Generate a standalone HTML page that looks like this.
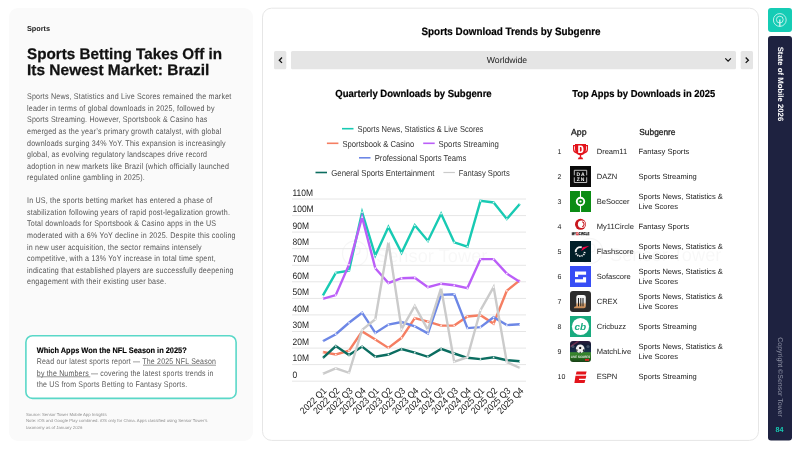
<!DOCTYPE html>
<html><head><meta charset="utf-8"><style>
html,body{margin:0;padding:0;width:800px;height:450px;overflow:hidden;background:#fff;}
svg{position:absolute;left:0;top:0;display:block;will-change:transform;}
svg text{font-family:"Liberation Sans",sans-serif;text-rendering:geometricPrecision;}
</style></head><body>
<svg width="800" height="450" viewBox="0 0 800 450">
<rect x="9" y="8" width="244" height="433" rx="9" fill="#fafafa"/>
<text x="27.00" y="31.00" font-size="7.3" font-weight="bold" fill="#1a1a1a">Sports</text>
<text transform="translate(27.00,58.60) scale(0.995,1)" font-size="15.3" font-weight="bold" fill="#111" stroke="#111" stroke-width="0.25">Sports Betting Takes Off in</text>
<text transform="translate(27.00,75.10) scale(1.012,1)" font-size="15.3" font-weight="bold" fill="#111" stroke="#111" stroke-width="0.25">Its Newest Market: Brazil</text>
<text transform="translate(27.00,99.40) scale(0.87,1)" font-size="8.2" fill="#555555" letter-spacing="0.22">Sports News, Statistics and Live Scores remained the market</text>
<text transform="translate(27.00,110.94) scale(0.87,1)" font-size="8.2" fill="#555555" letter-spacing="0.22">leader in terms of global downloads in 2025, followed by</text>
<text transform="translate(27.00,122.48) scale(0.87,1)" font-size="8.2" fill="#555555" letter-spacing="0.22">Sports Streaming. However, Sportsbook &amp; Casino has</text>
<text transform="translate(27.00,134.02) scale(0.87,1)" font-size="8.2" fill="#555555" letter-spacing="0.22">emerged as the year&#8217;s primary growth catalyst, with global</text>
<text transform="translate(27.00,145.56) scale(0.87,1)" font-size="8.2" fill="#555555" letter-spacing="0.22">downloads surging 34% YoY. This expansion is increasingly</text>
<text transform="translate(27.00,157.10) scale(0.87,1)" font-size="8.2" fill="#555555" letter-spacing="0.22">global, as evolving regulatory landscapes drive record</text>
<text transform="translate(27.00,168.64) scale(0.87,1)" font-size="8.2" fill="#555555" letter-spacing="0.22">adoption in new markets like Brazil (which officially launched</text>
<text transform="translate(27.00,180.18) scale(0.87,1)" font-size="8.2" fill="#555555" letter-spacing="0.22">regulated online gambling in 2025).</text>
<text transform="translate(27.00,203.40) scale(0.87,1)" font-size="8.2" fill="#555555" letter-spacing="0.22">In US, the sports betting market has entered a phase of</text>
<text transform="translate(27.00,214.94) scale(0.87,1)" font-size="8.2" fill="#555555" letter-spacing="0.22">stabilization following years of rapid post-legalization growth.</text>
<text transform="translate(27.00,226.48) scale(0.87,1)" font-size="8.2" fill="#555555" letter-spacing="0.22">Total downloads for Sportsbook &amp; Casino apps in the US</text>
<text transform="translate(27.00,238.02) scale(0.87,1)" font-size="8.2" fill="#555555" letter-spacing="0.22">moderated with a 6% YoY decline in 2025. Despite this cooling</text>
<text transform="translate(27.00,249.56) scale(0.87,1)" font-size="8.2" fill="#555555" letter-spacing="0.22">in new user acquisition, the sector remains intensely</text>
<text transform="translate(27.00,261.10) scale(0.87,1)" font-size="8.2" fill="#555555" letter-spacing="0.22">competitive, with a 13% YoY increase in total time spent,</text>
<text transform="translate(27.00,272.64) scale(0.87,1)" font-size="8.2" fill="#555555" letter-spacing="0.22">indicating that established players are successfully deepening</text>
<text transform="translate(27.00,284.18) scale(0.87,1)" font-size="8.2" fill="#555555" letter-spacing="0.22">engagement with their existing user base.</text>
<rect x="25.9" y="335.7" width="210.2" height="62.7" rx="6.5" fill="#fff" stroke="#5ad8c8" stroke-width="1.6"/>
<text transform="translate(36.80,352.80) scale(0.925,1)" font-size="8.0" font-weight="bold" fill="#000" stroke="#000" stroke-width="0.15">Which Apps Won the NFL Season in 2025?</text>
<text transform="translate(36.80,364.30) scale(0.855,1)" font-size="8.2" fill="#5a5a5a" letter-spacing="0.22">Read our latest sports report &#8212; The 2025 NFL Season</text>
<text transform="translate(36.80,375.80) scale(0.855,1)" font-size="8.2" fill="#5a5a5a" letter-spacing="0.22">by the Numbers &#8212; covering the latest sports trends in</text>
<line x1="143" y1="365.2" x2="216" y2="365.2" stroke="#7a7a7a" stroke-width="0.8"/><line x1="36.8" y1="376.8" x2="90.3" y2="376.8" stroke="#7a7a7a" stroke-width="0.8"/>
<text transform="translate(36.80,387.30) scale(0.855,1)" font-size="8.2" fill="#5a5a5a" letter-spacing="0.22">the US from Sports Betting to Fantasy Sports.</text>
<g transform="translate(26,416.1) scale(0.5)" fill="#8f8f8f" font-size="8.6"><text x="0" y="0">Source: Sensor Tower Mobile App Insights</text><text x="0" y="12.6">Note: iOS and Google Play combined. iOS only for China. Apps classified using Sensor Tower&#8217;s</text><text x="0" y="25">taxonomy as of January 2026</text></g>
<rect x="262.5" y="8.2" width="496" height="432.2" rx="9" fill="#fff" stroke="#e6e6e6" stroke-width="1"/>
<text transform="translate(511.00,34.90) scale(0.925,1)" font-size="10.7" font-weight="bold" text-anchor="middle" fill="#000" stroke="#000" stroke-width="0.2">Sports Download Trends by Subgenre</text>
<rect x="274" y="51" width="12.3" height="18.3" rx="1.5" fill="#e5e5e5"/>
<path d="M282 57.5 L279.3 60.2 L282 62.9" fill="none" stroke="#111" stroke-width="1.3"/>
<rect x="291" y="51" width="445" height="18.3" rx="1.5" fill="#e5e5e5"/>
<text x="507.00" y="63.10" font-size="8.7" text-anchor="middle" fill="#222">Worldwide</text>
<path d="M725.3 58.3 L728.1 61.1 L730.9 58.3" fill="none" stroke="#111" stroke-width="1.2"/>
<rect x="740.7" y="51" width="12.3" height="18.3" rx="1.5" fill="#e5e5e5"/>
<path d="M745.7 57.5 L748.4 60.2 L745.7 62.9" fill="none" stroke="#111" stroke-width="1.3"/>
<text transform="translate(335.30,97.00) scale(0.918,1)" font-size="10.4" font-weight="bold" fill="#000" stroke="#000" stroke-width="0.2">Quarterly Downloads by Subgenre</text>
<text transform="translate(572.30,97.00) scale(0.921,1)" font-size="10.2" font-weight="bold" fill="#000" stroke="#000" stroke-width="0.2">Top Apps by Downloads in 2025</text>
<g opacity="0.03"><circle cx="355" cy="253.5" r="12.5" fill="none" stroke="#000" stroke-width="1.3"/><path d="M352 261.5 V249.5 Q352 246.5 356 246.5 Q360 246.5 360 250.5 Q360 254.5 356 254.5" fill="none" stroke="#000" stroke-width="1.3"/></g>
<text x="376.00" y="262.00" font-size="18.3" fill="#000" opacity="0.028">Sensor Tower</text>
<g opacity="0.03"><circle cx="590" cy="251" r="12.5" fill="none" stroke="#000" stroke-width="1.3"/><path d="M587 259 V247 Q587 244 591 244 Q595 244 595 248 Q595 252 591 252" fill="none" stroke="#000" stroke-width="1.3"/></g>
<text x="610.00" y="261.00" font-size="18.3" fill="#000" opacity="0.028">Sensor Tower</text>
<line x1="342.0" y1="128.7" x2="353.5" y2="128.7" stroke="#18cab3" stroke-width="1.6"/>
<text x="357.60" y="131.90" font-size="8.7" fill="#333" textLength="125.8" lengthAdjust="spacingAndGlyphs">Sports News, Statistics &amp; Live Scores</text>
<line x1="326.9" y1="143.3" x2="338.4" y2="143.3" stroke="#f57e62" stroke-width="1.6"/>
<text x="342.50" y="146.50" font-size="8.7" fill="#333" textLength="71.8" lengthAdjust="spacingAndGlyphs">Sportsbook &amp; Casino</text>
<line x1="423.2" y1="143.3" x2="434.7" y2="143.3" stroke="#bb5ef8" stroke-width="1.6"/>
<text x="438.50" y="146.50" font-size="8.7" fill="#333" textLength="60.4" lengthAdjust="spacingAndGlyphs">Sports Streaming</text>
<line x1="359.0" y1="157.8" x2="370.5" y2="157.8" stroke="#6d87e6" stroke-width="1.6"/>
<text x="374.70" y="161.00" font-size="8.7" fill="#333" textLength="91.6" lengthAdjust="spacingAndGlyphs">Professional Sports Teams</text>
<line x1="315.5" y1="172.5" x2="327.0" y2="172.5" stroke="#0b6d60" stroke-width="1.6"/>
<text x="331.30" y="175.70" font-size="8.7" fill="#333" textLength="103.1" lengthAdjust="spacingAndGlyphs">General Sports Entertainment</text>
<line x1="443.4" y1="172.5" x2="454.9" y2="172.5" stroke="#cbcbcb" stroke-width="1.2"/>
<text x="458.70" y="175.70" font-size="8.7" fill="#333" textLength="51.1" lengthAdjust="spacingAndGlyphs">Fantasy Sports</text>
<line x1="292" y1="381.2" x2="526" y2="381.2" stroke="#e6e6e6" stroke-width="1"/>
<text transform="translate(292.50,377.90) scale(0.9,1)" font-size="9.4" fill="#222">0</text>
<line x1="292" y1="364.6" x2="526" y2="364.6" stroke="#e6e6e6" stroke-width="1"/>
<text transform="translate(292.50,361.34) scale(0.9,1)" font-size="9.4" fill="#222">10M</text>
<line x1="292" y1="348.1" x2="526" y2="348.1" stroke="#e6e6e6" stroke-width="1"/>
<text transform="translate(292.50,344.77) scale(0.9,1)" font-size="9.4" fill="#222">20M</text>
<line x1="292" y1="331.5" x2="526" y2="331.5" stroke="#e6e6e6" stroke-width="1"/>
<text transform="translate(292.50,328.21) scale(0.9,1)" font-size="9.4" fill="#222">30M</text>
<line x1="292" y1="314.9" x2="526" y2="314.9" stroke="#e6e6e6" stroke-width="1"/>
<text transform="translate(292.50,311.64) scale(0.9,1)" font-size="9.4" fill="#222">40M</text>
<line x1="292" y1="298.4" x2="526" y2="298.4" stroke="#e6e6e6" stroke-width="1"/>
<text transform="translate(292.50,295.08) scale(0.9,1)" font-size="9.4" fill="#222">50M</text>
<line x1="292" y1="281.8" x2="526" y2="281.8" stroke="#e6e6e6" stroke-width="1"/>
<text transform="translate(292.50,278.52) scale(0.9,1)" font-size="9.4" fill="#222">60M</text>
<line x1="292" y1="265.3" x2="526" y2="265.3" stroke="#e6e6e6" stroke-width="1"/>
<text transform="translate(292.50,261.95) scale(0.9,1)" font-size="9.4" fill="#222">70M</text>
<line x1="292" y1="248.7" x2="526" y2="248.7" stroke="#e6e6e6" stroke-width="1"/>
<text transform="translate(292.50,245.39) scale(0.9,1)" font-size="9.4" fill="#222">80M</text>
<line x1="292" y1="232.1" x2="526" y2="232.1" stroke="#e6e6e6" stroke-width="1"/>
<text transform="translate(292.50,228.82) scale(0.9,1)" font-size="9.4" fill="#222">90M</text>
<line x1="292" y1="215.6" x2="526" y2="215.6" stroke="#e6e6e6" stroke-width="1"/>
<text transform="translate(292.50,212.26) scale(0.9,1)" font-size="9.4" fill="#222">100M</text>
<line x1="292" y1="199.0" x2="526" y2="199.0" stroke="#e6e6e6" stroke-width="1"/>
<text transform="translate(292.50,195.70) scale(0.9,1)" font-size="9.4" fill="#222">110M</text>
<polyline points="322.7,295.9 335.8,272.8 349.0,270.6 362.1,212.2 375.3,255.5 388.4,227.1 401.6,252.8 414.8,225.3 427.9,240.9 441.1,213.7 454.2,242.3 467.4,246.6 480.5,200.9 493.6,202.5 506.8,219.0 520.0,203.8" fill="none" stroke="#18cab3" stroke-width="2.4" stroke-linejoin="miter"/>
<circle cx="322.7" cy="295.9" r="0.85" fill="#fff" opacity="0.85"/>
<circle cx="335.8" cy="272.8" r="0.85" fill="#fff" opacity="0.85"/>
<circle cx="349.0" cy="270.6" r="0.85" fill="#fff" opacity="0.85"/>
<circle cx="362.1" cy="212.2" r="0.85" fill="#fff" opacity="0.85"/>
<circle cx="375.3" cy="255.5" r="0.85" fill="#fff" opacity="0.85"/>
<circle cx="388.4" cy="227.1" r="0.85" fill="#fff" opacity="0.85"/>
<circle cx="401.6" cy="252.8" r="0.85" fill="#fff" opacity="0.85"/>
<circle cx="414.8" cy="225.3" r="0.85" fill="#fff" opacity="0.85"/>
<circle cx="427.9" cy="240.9" r="0.85" fill="#fff" opacity="0.85"/>
<circle cx="441.1" cy="213.7" r="0.85" fill="#fff" opacity="0.85"/>
<circle cx="454.2" cy="242.3" r="0.85" fill="#fff" opacity="0.85"/>
<circle cx="467.4" cy="246.6" r="0.85" fill="#fff" opacity="0.85"/>
<circle cx="480.5" cy="200.9" r="0.85" fill="#fff" opacity="0.85"/>
<circle cx="493.6" cy="202.5" r="0.85" fill="#fff" opacity="0.85"/>
<circle cx="506.8" cy="219.0" r="0.85" fill="#fff" opacity="0.85"/>
<circle cx="520.0" cy="203.8" r="0.85" fill="#fff" opacity="0.85"/>
<polyline points="322.7,352.0 335.8,354.5 349.0,350.7 362.1,331.4 375.3,339.5 388.4,347.9 401.6,337.8 414.8,318.2 427.9,321.6 441.1,325.6 454.2,325.6 467.4,316.5 480.5,315.2 493.6,323.6 506.8,290.8 520.0,280.1" fill="none" stroke="#f57e62" stroke-width="2.4" stroke-linejoin="miter"/>
<circle cx="322.7" cy="352.0" r="0.85" fill="#fff" opacity="0.85"/>
<circle cx="335.8" cy="354.5" r="0.85" fill="#fff" opacity="0.85"/>
<circle cx="349.0" cy="350.7" r="0.85" fill="#fff" opacity="0.85"/>
<circle cx="362.1" cy="331.4" r="0.85" fill="#fff" opacity="0.85"/>
<circle cx="375.3" cy="339.5" r="0.85" fill="#fff" opacity="0.85"/>
<circle cx="388.4" cy="347.9" r="0.85" fill="#fff" opacity="0.85"/>
<circle cx="401.6" cy="337.8" r="0.85" fill="#fff" opacity="0.85"/>
<circle cx="414.8" cy="318.2" r="0.85" fill="#fff" opacity="0.85"/>
<circle cx="427.9" cy="321.6" r="0.85" fill="#fff" opacity="0.85"/>
<circle cx="441.1" cy="325.6" r="0.85" fill="#fff" opacity="0.85"/>
<circle cx="454.2" cy="325.6" r="0.85" fill="#fff" opacity="0.85"/>
<circle cx="467.4" cy="316.5" r="0.85" fill="#fff" opacity="0.85"/>
<circle cx="480.5" cy="315.2" r="0.85" fill="#fff" opacity="0.85"/>
<circle cx="493.6" cy="323.6" r="0.85" fill="#fff" opacity="0.85"/>
<circle cx="506.8" cy="290.8" r="0.85" fill="#fff" opacity="0.85"/>
<circle cx="520.0" cy="280.1" r="0.85" fill="#fff" opacity="0.85"/>
<polyline points="322.7,298.9 335.8,295.1 349.0,264.7 362.1,217.2 375.3,268.2 388.4,283.0 401.6,278.2 414.8,277.7 427.9,287.1 441.1,283.7 454.2,285.3 467.4,288.1 480.5,259.1 493.6,259.1 506.8,273.6 520.0,281.9" fill="none" stroke="#bb5ef8" stroke-width="2.4" stroke-linejoin="miter"/>
<circle cx="322.7" cy="298.9" r="0.85" fill="#fff" opacity="0.85"/>
<circle cx="335.8" cy="295.1" r="0.85" fill="#fff" opacity="0.85"/>
<circle cx="349.0" cy="264.7" r="0.85" fill="#fff" opacity="0.85"/>
<circle cx="362.1" cy="217.2" r="0.85" fill="#fff" opacity="0.85"/>
<circle cx="375.3" cy="268.2" r="0.85" fill="#fff" opacity="0.85"/>
<circle cx="388.4" cy="283.0" r="0.85" fill="#fff" opacity="0.85"/>
<circle cx="401.6" cy="278.2" r="0.85" fill="#fff" opacity="0.85"/>
<circle cx="414.8" cy="277.7" r="0.85" fill="#fff" opacity="0.85"/>
<circle cx="427.9" cy="287.1" r="0.85" fill="#fff" opacity="0.85"/>
<circle cx="441.1" cy="283.7" r="0.85" fill="#fff" opacity="0.85"/>
<circle cx="454.2" cy="285.3" r="0.85" fill="#fff" opacity="0.85"/>
<circle cx="467.4" cy="288.1" r="0.85" fill="#fff" opacity="0.85"/>
<circle cx="480.5" cy="259.1" r="0.85" fill="#fff" opacity="0.85"/>
<circle cx="493.6" cy="259.1" r="0.85" fill="#fff" opacity="0.85"/>
<circle cx="506.8" cy="273.6" r="0.85" fill="#fff" opacity="0.85"/>
<circle cx="520.0" cy="281.9" r="0.85" fill="#fff" opacity="0.85"/>
<polyline points="322.7,341.3 335.8,334.2 349.0,322.8 362.1,312.7 375.3,332.9 388.4,324.6 401.6,322.1 414.8,326.3 427.9,333.4 441.1,294.9 454.2,294.2 467.4,328.1 480.5,327.2 493.6,317.3 506.8,325.1 520.0,324.3" fill="none" stroke="#6d87e6" stroke-width="2.4" stroke-linejoin="miter"/>
<circle cx="322.7" cy="341.3" r="0.85" fill="#fff" opacity="0.85"/>
<circle cx="335.8" cy="334.2" r="0.85" fill="#fff" opacity="0.85"/>
<circle cx="349.0" cy="322.8" r="0.85" fill="#fff" opacity="0.85"/>
<circle cx="362.1" cy="312.7" r="0.85" fill="#fff" opacity="0.85"/>
<circle cx="375.3" cy="332.9" r="0.85" fill="#fff" opacity="0.85"/>
<circle cx="388.4" cy="324.6" r="0.85" fill="#fff" opacity="0.85"/>
<circle cx="401.6" cy="322.1" r="0.85" fill="#fff" opacity="0.85"/>
<circle cx="414.8" cy="326.3" r="0.85" fill="#fff" opacity="0.85"/>
<circle cx="427.9" cy="333.4" r="0.85" fill="#fff" opacity="0.85"/>
<circle cx="441.1" cy="294.9" r="0.85" fill="#fff" opacity="0.85"/>
<circle cx="454.2" cy="294.2" r="0.85" fill="#fff" opacity="0.85"/>
<circle cx="467.4" cy="328.1" r="0.85" fill="#fff" opacity="0.85"/>
<circle cx="480.5" cy="327.2" r="0.85" fill="#fff" opacity="0.85"/>
<circle cx="493.6" cy="317.3" r="0.85" fill="#fff" opacity="0.85"/>
<circle cx="506.8" cy="325.1" r="0.85" fill="#fff" opacity="0.85"/>
<circle cx="520.0" cy="324.3" r="0.85" fill="#fff" opacity="0.85"/>
<polyline points="322.7,358.1 335.8,346.1 349.0,355.0 362.1,346.6 375.3,356.8 388.4,354.5 401.6,349.0 414.8,352.7 427.9,356.8 441.1,348.9 454.2,353.5 467.4,357.8 480.5,359.1 493.6,357.3 506.8,360.2 520.0,361.2" fill="none" stroke="#0b6d60" stroke-width="2.4" stroke-linejoin="miter"/>
<circle cx="322.7" cy="358.1" r="0.85" fill="#fff" opacity="0.85"/>
<circle cx="335.8" cy="346.1" r="0.85" fill="#fff" opacity="0.85"/>
<circle cx="349.0" cy="355.0" r="0.85" fill="#fff" opacity="0.85"/>
<circle cx="362.1" cy="346.6" r="0.85" fill="#fff" opacity="0.85"/>
<circle cx="375.3" cy="356.8" r="0.85" fill="#fff" opacity="0.85"/>
<circle cx="388.4" cy="354.5" r="0.85" fill="#fff" opacity="0.85"/>
<circle cx="401.6" cy="349.0" r="0.85" fill="#fff" opacity="0.85"/>
<circle cx="414.8" cy="352.7" r="0.85" fill="#fff" opacity="0.85"/>
<circle cx="427.9" cy="356.8" r="0.85" fill="#fff" opacity="0.85"/>
<circle cx="441.1" cy="348.9" r="0.85" fill="#fff" opacity="0.85"/>
<circle cx="454.2" cy="353.5" r="0.85" fill="#fff" opacity="0.85"/>
<circle cx="467.4" cy="357.8" r="0.85" fill="#fff" opacity="0.85"/>
<circle cx="480.5" cy="359.1" r="0.85" fill="#fff" opacity="0.85"/>
<circle cx="493.6" cy="357.3" r="0.85" fill="#fff" opacity="0.85"/>
<circle cx="506.8" cy="360.2" r="0.85" fill="#fff" opacity="0.85"/>
<circle cx="520.0" cy="361.2" r="0.85" fill="#fff" opacity="0.85"/>
<polyline points="322.7,373.8 335.8,368.3 349.0,372.8 362.1,329.9 375.3,319.3 388.4,242.3 401.6,329.1 414.8,306.0 427.9,329.9 441.1,288.1 454.2,361.6 467.4,357.3 480.5,310.2 493.6,287.1 506.8,362.1 520.0,368.0" fill="none" stroke="#cbcbcb" stroke-width="2.4" stroke-linejoin="miter"/>
<circle cx="322.7" cy="373.8" r="0.85" fill="#fff" opacity="0.85"/>
<circle cx="335.8" cy="368.3" r="0.85" fill="#fff" opacity="0.85"/>
<circle cx="349.0" cy="372.8" r="0.85" fill="#fff" opacity="0.85"/>
<circle cx="362.1" cy="329.9" r="0.85" fill="#fff" opacity="0.85"/>
<circle cx="375.3" cy="319.3" r="0.85" fill="#fff" opacity="0.85"/>
<circle cx="388.4" cy="242.3" r="0.85" fill="#fff" opacity="0.85"/>
<circle cx="401.6" cy="329.1" r="0.85" fill="#fff" opacity="0.85"/>
<circle cx="414.8" cy="306.0" r="0.85" fill="#fff" opacity="0.85"/>
<circle cx="427.9" cy="329.9" r="0.85" fill="#fff" opacity="0.85"/>
<circle cx="441.1" cy="288.1" r="0.85" fill="#fff" opacity="0.85"/>
<circle cx="454.2" cy="361.6" r="0.85" fill="#fff" opacity="0.85"/>
<circle cx="467.4" cy="357.3" r="0.85" fill="#fff" opacity="0.85"/>
<circle cx="480.5" cy="310.2" r="0.85" fill="#fff" opacity="0.85"/>
<circle cx="493.6" cy="287.1" r="0.85" fill="#fff" opacity="0.85"/>
<circle cx="506.8" cy="362.1" r="0.85" fill="#fff" opacity="0.85"/>
<circle cx="520.0" cy="368.0" r="0.85" fill="#fff" opacity="0.85"/>
<text transform="translate(327.0,391.3) rotate(-45) scale(0.91,1)" text-anchor="end" font-size="9.4" fill="#222">2022 Q1</text>
<text transform="translate(340.1,391.3) rotate(-45) scale(0.91,1)" text-anchor="end" font-size="9.4" fill="#222">2022 Q2</text>
<text transform="translate(353.3,391.3) rotate(-45) scale(0.91,1)" text-anchor="end" font-size="9.4" fill="#222">2022 Q3</text>
<text transform="translate(366.4,391.3) rotate(-45) scale(0.91,1)" text-anchor="end" font-size="9.4" fill="#222">2022 Q4</text>
<text transform="translate(379.6,391.3) rotate(-45) scale(0.91,1)" text-anchor="end" font-size="9.4" fill="#222">2023 Q1</text>
<text transform="translate(392.8,391.3) rotate(-45) scale(0.91,1)" text-anchor="end" font-size="9.4" fill="#222">2023 Q2</text>
<text transform="translate(405.9,391.3) rotate(-45) scale(0.91,1)" text-anchor="end" font-size="9.4" fill="#222">2023 Q3</text>
<text transform="translate(419.1,391.3) rotate(-45) scale(0.91,1)" text-anchor="end" font-size="9.4" fill="#222">2023 Q4</text>
<text transform="translate(432.2,391.3) rotate(-45) scale(0.91,1)" text-anchor="end" font-size="9.4" fill="#222">2024 Q1</text>
<text transform="translate(445.4,391.3) rotate(-45) scale(0.91,1)" text-anchor="end" font-size="9.4" fill="#222">2024 Q2</text>
<text transform="translate(458.5,391.3) rotate(-45) scale(0.91,1)" text-anchor="end" font-size="9.4" fill="#222">2024 Q3</text>
<text transform="translate(471.7,391.3) rotate(-45) scale(0.91,1)" text-anchor="end" font-size="9.4" fill="#222">2024 Q4</text>
<text transform="translate(484.8,391.3) rotate(-45) scale(0.91,1)" text-anchor="end" font-size="9.4" fill="#222">2025 Q1</text>
<text transform="translate(497.9,391.3) rotate(-45) scale(0.91,1)" text-anchor="end" font-size="9.4" fill="#222">2025 Q2</text>
<text transform="translate(511.1,391.3) rotate(-45) scale(0.91,1)" text-anchor="end" font-size="9.4" fill="#222">2025 Q3</text>
<text transform="translate(524.2,391.3) rotate(-45) scale(0.91,1)" text-anchor="end" font-size="9.4" fill="#222">2025 Q4</text>
<text x="571.00" y="134.80" font-size="8.7" fill="#222" stroke="#222" stroke-width="0.3">App</text>
<text transform="translate(639.30,134.80) scale(0.96,1)" font-size="8.7" fill="#222" stroke="#222" stroke-width="0.3">Subgenre</text>
<text x="557.50" y="154.00" font-size="7" fill="#222">1</text>
<g transform="translate(570,141.00)"><path d="M5 3 H16 V8.2 Q16 13.6 10.5 14.2 Q5 13.6 5 8.2Z" fill="#e3131b"/><path d="M5.6 4.6 H3.6 V8 Q3.6 11.2 6.4 11.8 M15.4 4.6 H17.4 V8 Q17.4 11.2 14.6 11.8" fill="none" stroke="#e3131b" stroke-width="1.2"/><rect x="9.8" y="13" width="1.4" height="3.2" fill="#e3131b"/><path d="M7.8 18.2 Q8 16 10.5 16 Q13 16 13.2 18.2Z" fill="#e3131b"/><path d="M8.2 4.4 H11 Q13.5 4.4 13.5 8.2 Q13.5 12 11 12 H8.2Z M9.9 6 V10.4 H10.8 Q11.7 10.4 11.7 8.2 Q11.7 6 10.8 6Z" fill="#fff" fill-rule="evenodd"/></g>
<text x="596.70" y="154.00" font-size="7.55" fill="#222">Dream11</text>
<text x="638.50" y="154.00" font-size="7.55" fill="#222">Fantasy Sports</text>
<text x="557.50" y="179.00" font-size="7" fill="#222">2</text>
<g transform="translate(570,166.00)"><rect x="0" y="0" width="21" height="21" fill="#0a0a0a"/><path d="M4.3 9.3 V4.3 H16.7 V9.3 M4.3 11.3 V16.5 H16.7 V11.3" fill="none" stroke="#e8e8e8" stroke-width="0.8"/><text x="11" y="9.7" text-anchor="middle" font-size="5" font-weight="bold" fill="#f0f0f0" letter-spacing="0.9">DA</text><text x="11" y="14.8" text-anchor="middle" font-size="5" font-weight="bold" fill="#f0f0f0" letter-spacing="0.9">ZN</text></g>
<text x="596.70" y="179.00" font-size="7.55" fill="#222">DAZN</text>
<text x="638.50" y="179.00" font-size="7.55" fill="#222">Sports Streaming</text>
<text x="557.50" y="204.00" font-size="7" fill="#222">3</text>
<g transform="translate(570,191.00)"><rect width="21" height="21" fill="#0b8c14"/><rect x="9.95" y="0" width="1.1" height="21" fill="#fff"/><circle cx="10.5" cy="10.5" r="3.75" fill="#0b8c14" stroke="#fff" stroke-width="1.9"/><circle cx="10.5" cy="10.5" r="1.1" fill="#fff"/></g>
<text x="596.70" y="204.00" font-size="7.55" fill="#222">BeSoccer</text>
<text x="638.50" y="199.00" font-size="7.55" fill="#222">Sports News, Statistics &amp;</text>
<text x="638.50" y="209.00" font-size="7.55" fill="#222">Live Scores</text>
<text x="557.50" y="229.00" font-size="7" fill="#222">4</text>
<g transform="translate(570,216.00)"><circle cx="10.5" cy="8.3" r="5.5" fill="#c8161d"/><circle cx="11.6" cy="8.3" r="3.7" fill="#fff"/><path d="M12.2 5.8 A2.6 2.6 0 0 1 12.2 10.8" fill="none" stroke="#c8161d" stroke-width="1.1"/><text transform="translate(10.5,18.5) scale(0.7,1)" text-anchor="middle" font-size="4" font-weight="bold" fill="#111" stroke="#111" stroke-width="0.25">MY<tspan fill="#d0121c" stroke="#d0121c">11</tspan>CIRCLE</text></g>
<text x="596.70" y="229.00" font-size="7.55" fill="#222">My11Circle</text>
<text x="638.50" y="229.00" font-size="7.55" fill="#222">Fantasy Sports</text>
<text x="557.50" y="254.00" font-size="7" fill="#222">5</text>
<g transform="translate(570,241.00)"><rect width="21" height="21" fill="#001e28"/><path d="M11.74 6.37 A4.5 4.5 0 0 0 5.74 11.23 M6.03 12.29 A4.5 4.5 0 0 0 6.65 13.37 M7.31 14.05 A4.5 4.5 0 0 0 8.37 14.71 M9.26 15.00 A4.5 4.5 0 0 0 10.51 15.09 M11.44 14.93 A4.5 4.5 0 0 0 12.58 14.42 M13.33 13.84 A4.5 4.5 0 0 0 14.10 12.85 M14.43 12.14 A4.5 4.5 0 0 0 14.69 10.91" fill="none" stroke="#f4f4f4" stroke-width="1.8"/><path d="M11.3 10 L12.7 6.3 L19.4 4.8Z" fill="#ff0046"/></g>
<text x="596.70" y="254.00" font-size="7.55" fill="#222">Flashscore</text>
<text x="638.50" y="249.00" font-size="7.55" fill="#222">Sports News, Statistics &amp;</text>
<text x="638.50" y="259.00" font-size="7.55" fill="#222">Live Scores</text>
<text x="557.50" y="279.00" font-size="7" fill="#222">6</text>
<g transform="translate(570,266.00)"><rect width="21" height="21" fill="#374df5"/><path d="M5 5.5 H16.1 V8.8 H8.1 V11 H5Z M5 13.2 H13 V11.3 H16.1 V16.6 H5Z" fill="#fff"/></g>
<text x="596.70" y="279.00" font-size="7.55" fill="#222">Sofascore</text>
<text x="638.50" y="274.00" font-size="7.55" fill="#222">Sports News, Statistics &amp;</text>
<text x="638.50" y="284.00" font-size="7.55" fill="#222">Live Scores</text>
<text x="557.50" y="304.00" font-size="7" fill="#222">7</text>
<g transform="translate(570,291.00)"><defs><linearGradient id="cx" x1="0" y1="0" x2="0" y2="1"><stop offset="0" stop-color="#fafafa"/><stop offset="0.55" stop-color="#e8e8e8"/><stop offset="0.7" stop-color="#d9a472"/><stop offset="1" stop-color="#c98a55"/></linearGradient></defs><rect width="21" height="21" rx="3" fill="#2b2b2b"/><path d="M6.3 15.3 V6 Q6.3 3.9 8.5 3.9 H13.5 Q15.8 3.9 15.8 6 V15.3 Q15.8 17.2 13.8 17.2 H3.8 Q4 15.3 6.3 15.3Z" fill="url(#cx)"/><rect x="8" y="7" width="1" height="8.3" fill="#1a1a1a"/><rect x="10.3" y="7" width="1" height="8.3" fill="#1a1a1a"/><rect x="12.5" y="7" width="1" height="8.3" fill="#1a1a1a"/></g>
<text x="596.70" y="304.00" font-size="7.55" fill="#222">CREX</text>
<text x="638.50" y="299.00" font-size="7.55" fill="#222">Sports News, Statistics &amp;</text>
<text x="638.50" y="309.00" font-size="7.55" fill="#222">Live Scores</text>
<text x="557.50" y="329.00" font-size="7" fill="#222">8</text>
<g transform="translate(570,316.00)"><rect width="21" height="21" fill="#19aa7e"/><circle cx="10.5" cy="10.5" r="8.6" fill="#fff"/><text transform="translate(10.3,13.7) scale(1.05,1)" text-anchor="middle" font-size="9.5" font-weight="bold" font-style="italic" fill="#17ab7f">cb</text></g>
<text x="596.70" y="329.00" font-size="7.55" fill="#222">Cricbuzz</text>
<text x="638.50" y="329.00" font-size="7.55" fill="#222">Sports Streaming</text>
<text x="557.50" y="354.00" font-size="7" fill="#222">9</text>
<g transform="translate(570,341.00)"><defs><linearGradient id="ml" x1="0" y1="0" x2="0" y2="1"><stop offset="0" stop-color="#2a1a3a"/><stop offset="0.2" stop-color="#131d36"/><stop offset="0.5" stop-color="#18304a"/><stop offset="0.56" stop-color="#3a8a30"/><stop offset="0.8" stop-color="#2a6e22"/><stop offset="1" stop-color="#173f14"/></linearGradient></defs><rect width="21" height="21" rx="3" fill="url(#ml)"/><path d="M0.5 4.5 L7 0.3 L9.5 0.3 L0.5 6.5Z" fill="#d04a6a" opacity="0.45"/><circle cx="3" cy="5.5" r="1.6" fill="#9ab" opacity="0.35"/><circle cx="18" cy="5.5" r="1.6" fill="#9ab" opacity="0.35"/><circle cx="10.2" cy="7.8" r="4.3" fill="#f2f2f2"/><path d="M9 6.6 L10.2 5.8 L11.4 6.6 L11 8 H9.4Z" fill="#1a1a1a"/><path d="M6 8.6 L7.3 8.2 L7.6 10 L6.6 10.8Z M14.4 8.6 L13.1 8.2 L12.8 10 L13.8 10.8Z M9.2 11.6 L10.2 10.6 L11.2 11.6 L10.2 12.1Z" fill="#2a2a2a"/><text transform="translate(10.5,16.9) scale(0.85,1)" text-anchor="middle" font-size="3.4" font-weight="bold" fill="#f4f4f4">LIVE SCORES</text><rect x="15" y="17.9" width="4" height="1.9" fill="#d92525"/></g>
<text x="596.70" y="354.00" font-size="7.55" fill="#222">MatchLive</text>
<text x="638.50" y="349.00" font-size="7.55" fill="#222">Sports News, Statistics &amp;</text>
<text x="638.50" y="359.00" font-size="7.55" fill="#222">Live Scores</text>
<text x="557.50" y="379.00" font-size="7" fill="#222">10</text>
<g transform="translate(570,366.00)"><path d="M6.6 5.6 H16.6 L15.8 8.6 H5.8Z M5.5 9.7 H16.3 L15.6 12.8 H9.1 L8.9 13.9 H15.3 L14.5 16.9 H4.4Z" fill="#e3141b"/></g>
<text x="596.70" y="379.00" font-size="7.55" fill="#222">ESPN</text>
<text x="638.50" y="379.00" font-size="7.55" fill="#222">Sports Streaming</text>
<rect x="768" y="8" width="24" height="24" rx="3" fill="#15ccb5"/>
<g fill="none" stroke="#fff" stroke-width="0.75" opacity="0.95"><circle cx="779.8" cy="20" r="6.4"/><circle cx="779.8" cy="19.6" r="3.4"/></g><path d="M779.1 19.6 H780.5 V26.4 H779.1Z" fill="#fff" opacity="0.75"/>
<rect x="768" y="36" width="24" height="404.5" rx="3" fill="#1e2240"/>
<text transform="translate(777.5,46.7) rotate(90)" font-size="7.75" font-weight="bold" fill="#fff">State of Mobile 2026</text>
<text transform="translate(777.6,337.2) rotate(90)" font-size="7.0" fill="#8e92a4">Copyright &#169;Sensor Tower</text>
<text x="779.40" y="432.30" font-size="7.2" font-weight="bold" text-anchor="middle" fill="#17c9b2">84</text>
</svg>
</body></html>
